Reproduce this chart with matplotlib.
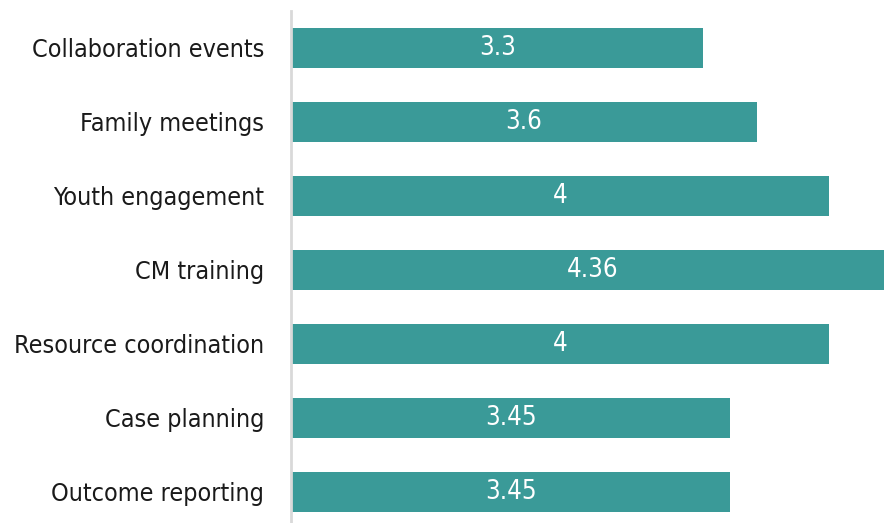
import matplotlib
matplotlib.use("Agg")
import matplotlib.pyplot as plt
from matplotlib import font_manager

categories = ["Collaboration events", "Family meetings", "Youth engagement", "CM training",
              "Resource coordination", "Case planning", "Outcome reporting"]
values = [3.3, 3.6, 4, 4.36, 4, 3.45, 3.45]
value_labels = ["3.3", "3.6", "4", "4.36", "4", "3.45", "3.45"]

names = {f.name for f in font_manager.fontManager.ttflist}
fam = ["Liberation Sans Narrow"] if "Liberation Sans Narrow" in names else ["DejaVu Sans"]
plt.rcParams['font.family'] = fam + ["DejaVu Sans"]
stretch = 'normal' if fam[0] == "Liberation Sans Narrow" else 'condensed'

W, H = 884, 523
fig = plt.figure(figsize=(W/100, H/100), dpi=100)
ax = fig.add_axes([291/W, 0, 1 - 291/W, (523-11)/H])

xmin, xmax = 1, 4.307
ax.barh(range(len(categories)), [v - xmin for v in values], left=xmin,
        height=0.55, color="#3a9a98")
for i, (v, t) in enumerate(zip(values, value_labels)):
    ax.text((xmin + v) / 2, i, t, ha="center", va="center", color="white",
            fontsize=18.5, fontstretch=stretch)

ax.set_xlim(xmin, xmax)
ax.set_ylim(6.42, -0.5)
ax.set_yticks(range(len(categories)))
ax.set_yticklabels(categories, fontsize=18, fontstretch=stretch, color="#1a1a1a")
ax.tick_params(axis="y", length=0, pad=19.5)
ax.set_xticks([])
for s in ["top", "right", "bottom"]:
    ax.spines[s].set_visible(False)
ax.spines["left"].set_color("#d9d9d9")
ax.spines["left"].set_linewidth(2)

fig.savefig("out.png", dpi=100)
